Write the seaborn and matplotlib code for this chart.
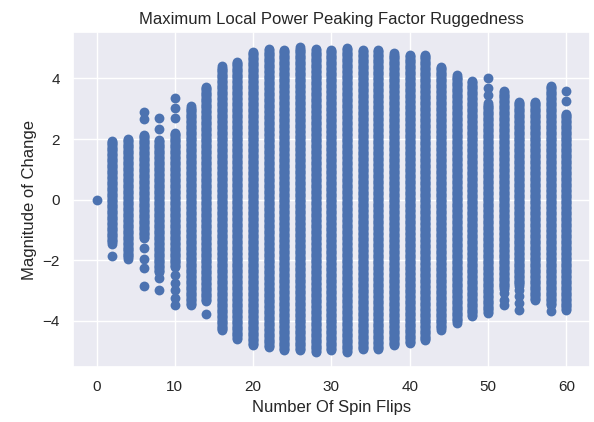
import numpy as np
import pandas as pd
import seaborn as sns
import matplotlib.pyplot as plt

# --- Data ---
# number of spin flips (even values 0..60)
spin_flips = [0, 2, 4, 6, 8, 10, 12, 14, 16, 18, 20, 22, 24, 26, 28, 30,
              32, 34, 36, 38, 40, 42, 44, 46, 48, 50, 52, 54, 56, 58, 60]

# dense runs of magnitude-of-change values per column: (low, high)
dense_low = [0.0, -1.45, -1.95, -1.26, -2.39, -2.23, -3.48, -3.35, -4.32, -4.60,
             -4.80, -4.87, -4.97, -4.97, -5.03, -4.97, -5.03, -4.94, -4.94, -4.81,
             -4.74, -4.65, -4.29, -4.06, -3.84, -3.74, -2.94, -2.84, -3.32, -3.48, -3.64]
dense_high = [0.0, 1.97, 2.03, 2.16, 1.97, 2.23, 3.10, 3.74, 4.42, 4.58,
              4.90, 4.97, 4.97, 5.06, 4.97, 4.97, 5.03, 4.97, 4.97, 4.84,
              4.81, 4.80, 4.42, 4.13, 3.94, 3.19, 3.60, 3.26, 3.26, 3.77, 2.87]

# isolated values sitting outside the dense runs
isolated = {
    2: [-1.87],
    6: [2.90, 2.65, -1.60, -1.97, -2.26, -2.84],
    8: [2.71, 2.33, -2.60, -3.00],
    10: [3.35, 3.03, 2.71, -2.50, -2.75, -3.00, -3.25, -3.48],
    14: [-3.77],
    50: [4.00, 3.68, 3.45],
    52: [-3.10, -3.30, -3.48],
    54: [-3.00, -3.20, -3.40, -3.64],
    58: [-3.68],
    60: [3.60, 3.26],
}

# --- Build long table ---
rows = []
for x, lo, hi in zip(spin_flips, dense_low, dense_high):
    vals = list(np.arange(lo, hi + 1e-9, 0.04)) if hi > lo else [lo]
    vals += isolated.get(x, [])
    rows += [(x, v) for v in vals]
df = pd.DataFrame(rows, columns=["flips", "change"])

# --- Plot ---
sns.set_theme(style="darkgrid", context="notebook")
plt.rcParams['font.family'] = ['Liberation Sans', 'DejaVu Sans']

fig, ax = plt.subplots(figsize=(5.94, 4.22), dpi=100)
sns.scatterplot(data=df, x="flips", y="change", ax=ax, s=50,
                color="#4C72B0", edgecolor="#4C72B0", linewidth=0)
ax.set_title("Maximum Local Power Peaking Factor Ruggedness", fontsize=12)
ax.set_xlabel("Number Of Spin Flips", fontsize=12)
ax.set_ylabel("Magnitude of Change", fontsize=12)
ax.set_xticks([0, 10, 20, 30, 40, 50, 60])
ax.set_yticks([-4, -2, 0, 2, 4])
ax.tick_params(labelsize=11)
fig.subplots_adjust(left=0.123, right=0.993, top=0.924, bottom=0.130)
fig.savefig("out.png", dpi=100)
